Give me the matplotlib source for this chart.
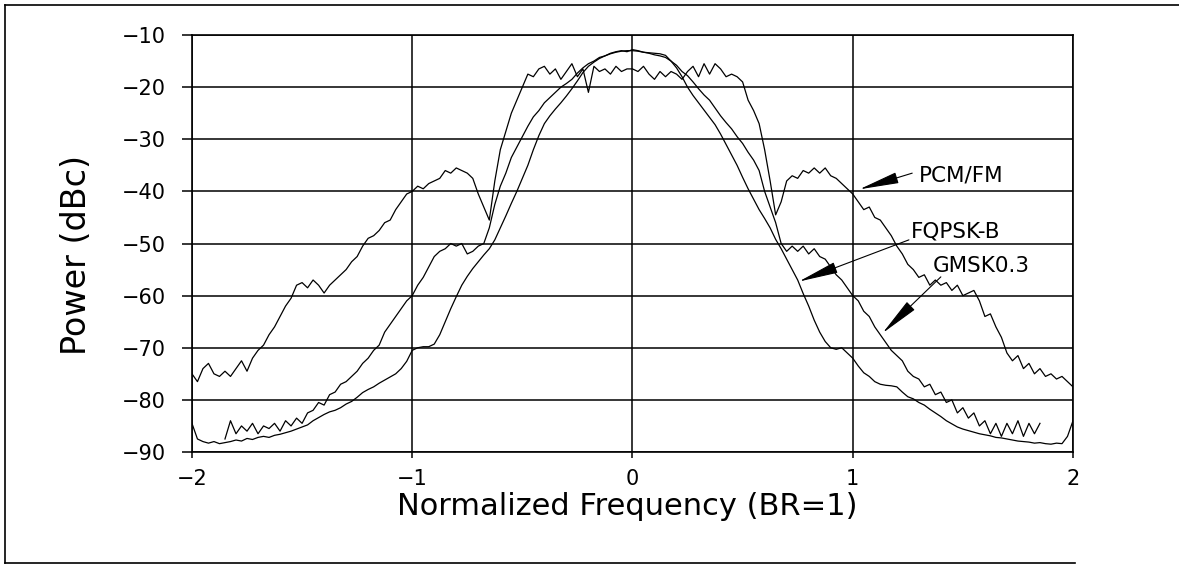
import numpy as np
import matplotlib
matplotlib.use("Agg")
import matplotlib.pyplot as plt
from matplotlib.lines import Line2D

# ------------------------------------------------------------------------------
# Data (0.025 steps in normalized frequency)
# ------------------------------------------------------------------------------

freq = np.linspace(-2.0, 2.0, 161)
gmsk_freq = np.linspace(-1.85, 1.85, 149)

pcm_fm = [
    -75.0, -76.5, -74.0, -73.0, -75.0, -75.5, -74.5, -75.5,
    -74.0, -72.5, -74.5, -72.0, -70.5, -69.5, -67.5, -66.0,
    -64.0, -62.0, -60.5, -58.0, -57.5, -58.5, -57.0, -58.0,
    -59.5, -58.0, -57.0, -56.0, -55.0, -53.5, -52.5, -50.5,
    -49.0, -48.5, -47.5, -46.0, -45.5, -43.5, -42.0, -40.5,
    -40.0, -39.0, -39.5, -38.5, -38.0, -37.5, -36.0, -36.5,
    -35.5, -36.0, -36.5, -37.5, -40.5, -43.0, -45.5, -38.0,
    -32.0, -28.5, -25.0, -22.5, -20.0, -17.5, -18.0, -16.5,
    -16.0, -17.5, -16.5, -18.5, -17.0, -15.5, -18.0, -16.5,
    -21.0, -16.0, -17.0, -16.5, -17.5, -16.0, -17.0, -16.5,
    -16.5, -17.0, -16.0, -17.5, -18.5, -17.0, -18.0, -17.0,
    -17.5, -18.5, -17.0, -16.0, -18.0, -15.5, -17.5, -15.5,
    -16.5, -18.0, -17.5, -18.0, -19.0, -22.5, -24.5, -27.0,
    -32.0, -38.0, -44.5, -42.0, -38.0, -37.0, -37.5, -36.0,
    -36.5, -35.5, -36.5, -35.5, -37.0, -37.5, -38.5, -39.5,
    -40.5, -42.0, -43.5, -43.0, -45.0, -45.5, -47.0, -48.5,
    -50.5, -52.0, -54.0, -55.0, -56.5, -56.0, -58.0, -57.0,
    -58.0, -57.5, -59.0, -58.0, -60.0, -59.5, -59.0, -61.0,
    -64.0, -63.5, -66.0, -68.0, -71.0, -72.5, -71.5, -74.0,
    -73.0, -75.0, -74.0, -75.5, -75.0, -76.0, -75.5, -76.5,
    -77.5,
]

fqpsk_b = [
    -84.5, -87.5, -88.0, -88.3, -88.0, -88.4, -88.2, -88.0,
    -87.7, -87.9, -87.4, -87.6, -87.2, -87.0, -87.2, -86.8,
    -86.6, -86.3, -86.0, -85.6, -85.2, -84.8, -84.0, -83.4,
    -82.8, -82.3, -82.0, -81.5, -80.8, -80.3, -79.5, -78.6,
    -78.0, -77.5, -76.8, -76.2, -75.6, -75.0, -74.0, -72.6,
    -70.5, -70.0, -69.8, -69.8, -69.3, -67.5, -65.0, -62.5,
    -60.2, -58.0, -56.3, -54.8, -53.5, -52.2, -51.0, -49.3,
    -47.0, -44.7, -42.3, -40.0, -37.5, -35.0, -32.0, -29.3,
    -27.0, -25.5, -24.2, -23.0, -21.7, -20.3, -18.8, -17.2,
    -16.0, -15.2, -14.5, -14.0, -13.6, -13.3, -13.1, -13.0,
    -13.0, -13.1, -13.3, -13.4, -13.5, -13.6, -13.9, -15.0,
    -16.3, -18.0, -20.0, -21.6, -23.0, -24.4, -25.8, -27.2,
    -29.0, -31.0, -33.0, -35.0, -37.3, -39.5, -41.5, -43.5,
    -45.2, -47.0, -49.2, -51.0, -53.0, -55.0, -57.0, -59.6,
    -62.0, -64.7, -67.0, -68.8, -70.0, -70.3, -70.0, -71.0,
    -72.0, -73.5, -74.8, -75.5, -76.5, -77.0, -77.2, -77.3,
    -77.5, -78.5, -79.4, -79.8, -80.5, -81.0, -81.8, -82.5,
    -83.2, -84.0, -84.6, -85.2, -85.6, -85.9, -86.2, -86.5,
    -86.7, -86.9, -87.2, -87.3, -87.5, -87.7, -87.9, -88.0,
    -88.1, -88.3, -88.2, -88.4, -88.5, -88.3, -88.4, -87.0,
    -84.0,
]

gmsk03 = [
    -87.5, -84.0, -86.5, -85.0, -86.0, -84.5, -86.5, -85.0,
    -85.5, -84.5, -86.0, -84.0, -85.0, -83.5, -84.5, -82.5,
    -82.0, -80.5, -81.0, -79.0, -78.5, -77.0, -76.5, -75.5,
    -74.5, -73.0, -72.0, -70.5, -69.5, -67.0, -65.5, -64.0,
    -62.5, -61.0, -60.0, -58.0, -56.5, -54.5, -52.5, -51.5,
    -51.0, -50.0, -50.5, -50.0, -52.0, -51.5, -50.5, -50.0,
    -47.0, -42.5, -39.0, -36.5, -33.5, -31.5, -29.5, -27.5,
    -25.7, -24.5, -23.0, -22.0, -21.0, -20.0, -19.3, -18.5,
    -17.3, -16.3, -15.5, -15.0, -14.3, -14.0, -13.5, -13.2,
    -13.0, -13.2, -12.8, -13.0, -13.3, -13.5, -13.8, -14.0,
    -14.3, -15.0, -15.8, -17.0, -17.8, -19.0, -20.3, -21.5,
    -22.5, -24.0, -25.5, -26.8, -28.0, -29.5, -30.8, -32.5,
    -34.0, -36.0, -40.0, -43.0, -46.0, -50.0, -51.5, -50.5,
    -51.5, -50.5, -52.0, -51.0, -52.5, -53.0, -54.5, -56.0,
    -57.0, -58.5, -60.0, -61.0, -63.0, -64.0, -66.0, -67.5,
    -69.0, -70.5, -71.5, -72.5, -74.5, -75.5, -76.0, -77.5,
    -77.0, -79.0, -78.5, -80.5, -80.0, -82.5, -81.5, -83.5,
    -82.5, -85.0, -84.0, -86.5, -84.5, -87.0, -84.5, -86.5,
    -84.0, -87.0, -84.5, -86.5, -84.5,
]

labels = ["PCM/FM", "FQPSK-B", "GMSK0.3"]
arrow_tips = [(1.03, -39.6), (0.755, -57.3), (1.135, -67.2)]
arrow_tails = [(1.27, -36.5), (1.255, -49.3), (1.40, -56.4)]
label_pos = [(1.30, -37.0), (1.265, -47.7), (1.365, -54.4)]

x_ticks = [-2, -1, 0, 1, 2]
y_ticks = [-90, -80, -70, -60, -50, -40, -30, -20, -10]

# ------------------------------------------------------------------------------
# Plot
# ------------------------------------------------------------------------------

fig = plt.figure(figsize=(11.79, 5.65), dpi=100)
ax = fig.add_axes([0.1628, 0.2, 0.7473, 0.738])

for vals, f in ((pcm_fm, freq), (fqpsk_b, freq), (gmsk03, gmsk_freq)):
    ax.plot(f, vals, color="black", lw=0.9)

ax.set_xlim(-2, 2)
ax.set_ylim(-90, -10)
ax.set_xticks(x_ticks)
ax.set_yticks(y_ticks)
ax.grid(True, color="black", lw=1.1)
for sp in ax.spines.values():
    sp.set_linewidth(1.2)

ax.tick_params(axis="y", direction="out", length=7, width=1.1, pad=12, labelsize=15)
ax.tick_params(axis="x", direction="out", length=4, width=1.1, pad=8, labelsize=15)

ax.set_xlabel("Normalized Frequency (BR=1)", fontsize=22)
ax.set_ylabel("Power (dBc)", fontsize=24)
ax.xaxis.set_label_coords(0.494, -0.095)
ax.yaxis.set_label_coords(-0.112, 0.472)

for lbl, tip, tail, pos in zip(labels, arrow_tips, arrow_tails, label_pos):
    ax.annotate(
        "", xy=tip, xytext=tail,
        arrowprops=dict(arrowstyle="-|>,head_length=2.5,head_width=0.35",
                        color="black", lw=0.8, shrinkA=0, shrinkB=0,
                        mutation_scale=10),
    )
    ax.text(pos[0], pos[1], lbl, fontsize=15.5, ha="left", va="center")

# outer frame of the scanned figure
fig.add_artist(Line2D([0.0042, 0.0042], [0.0035, 0.991], color="black", lw=1.2))
fig.add_artist(Line2D([0.0042, 1.0], [0.991, 0.991], color="black", lw=1.2))
fig.add_artist(Line2D([0.0042, 0.912], [0.0035, 0.0035], color="black", lw=1.2))

fig.savefig("out.png", dpi=100, facecolor="white")
